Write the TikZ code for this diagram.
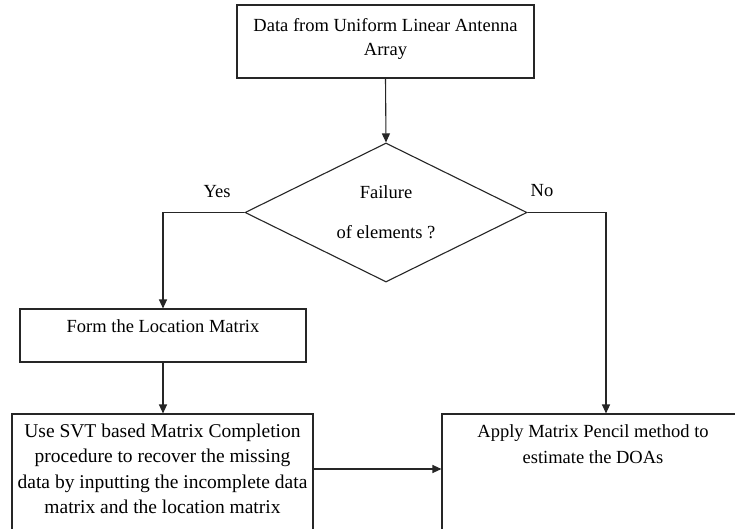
\documentclass[tikz,border=0pt]{standalone}
\usepackage{fontspec}
\setmainfont{Liberation Serif}
\usetikzlibrary{shapes.geometric,arrows.meta}
\tikzset{
	flowbox/.style={draw=black!85,line width=1.1pt,rectangle,inner sep=0pt},
	decision/.style={draw=black!85,line width=1.1pt,diamond,aspect=2.03,inner sep=0pt,align=center},
	boxtext/.style={inner sep=0pt,align=center,anchor=north},
	flowline/.style={draw=black!85,line width=1.1pt},
	>={Triangle[length=9pt,width=8pt]}
}
\begin{document}
\begin{tikzpicture}[x=1pt,y=-1pt,every node/.style={font=\fontsize{18.5}{24.5}\selectfont}]
					\fill[white] (0,0) rectangle (735,529);
					\clip (0,0) rectangle (735,529);
					\path (385.5,41.5) node[flowbox,minimum width=297pt,minimum height=73pt] (data) {};
					\path (385.5,18) node[boxtext] (datatext) {Data from Uniform Linear Antenna\\Array};
					\path (386,212.5) node[decision,minimum width=282pt,minimum height=139pt] (fail) {Failure\\[15.5pt]of elements ?};
					\path (217,192) node (yes) {Yes};
					\path (542,191) node (no) {No};
					\path (163,335.5) node[flowbox,minimum width=286pt,minimum height=53pt] (loc) {};
					\path (163,332) node[anchor=base,inner sep=0pt] (loctext) {Form the Location Matrix};
					\path (162.5,484) node[flowbox,minimum width=301pt,minimum height=140pt] (svt) {};
					\path (162.5,423.7) node[boxtext,font=\fontsize{19.5}{25.3}\selectfont] (svttext) {Use SVT based Matrix Completion\\procedure to recover the missing\\data by inputting the incomplete data\\matrix and the location matrix};
					\path (593,484) node[flowbox,minimum width=302pt,minimum height=140pt] (doa) {};
					\path (593,424.4) node[boxtext,font=\fontsize{18.5}{26}\selectfont] (doatext) {Apply Matrix Pencil method to\\estimate the DOAs};
					\path (606,212.5) coordinate (nobend);
					\draw[flowline,->] (data.south) -- (fail.north);
					\draw[flowline,->] (fail.west) -| (loc.north);
					\draw[flowline,->] (loc.south) -- (loc.south |- svt.north);
					\draw[flowline,->] ([yshift=15pt]svt.east) -- ([yshift=15pt]svt.east -| doa.west);
					\draw[flowline,->] (fail.east) -- (nobend) -- (nobend |- doa.north);
					\end{tikzpicture}
\end{document}
